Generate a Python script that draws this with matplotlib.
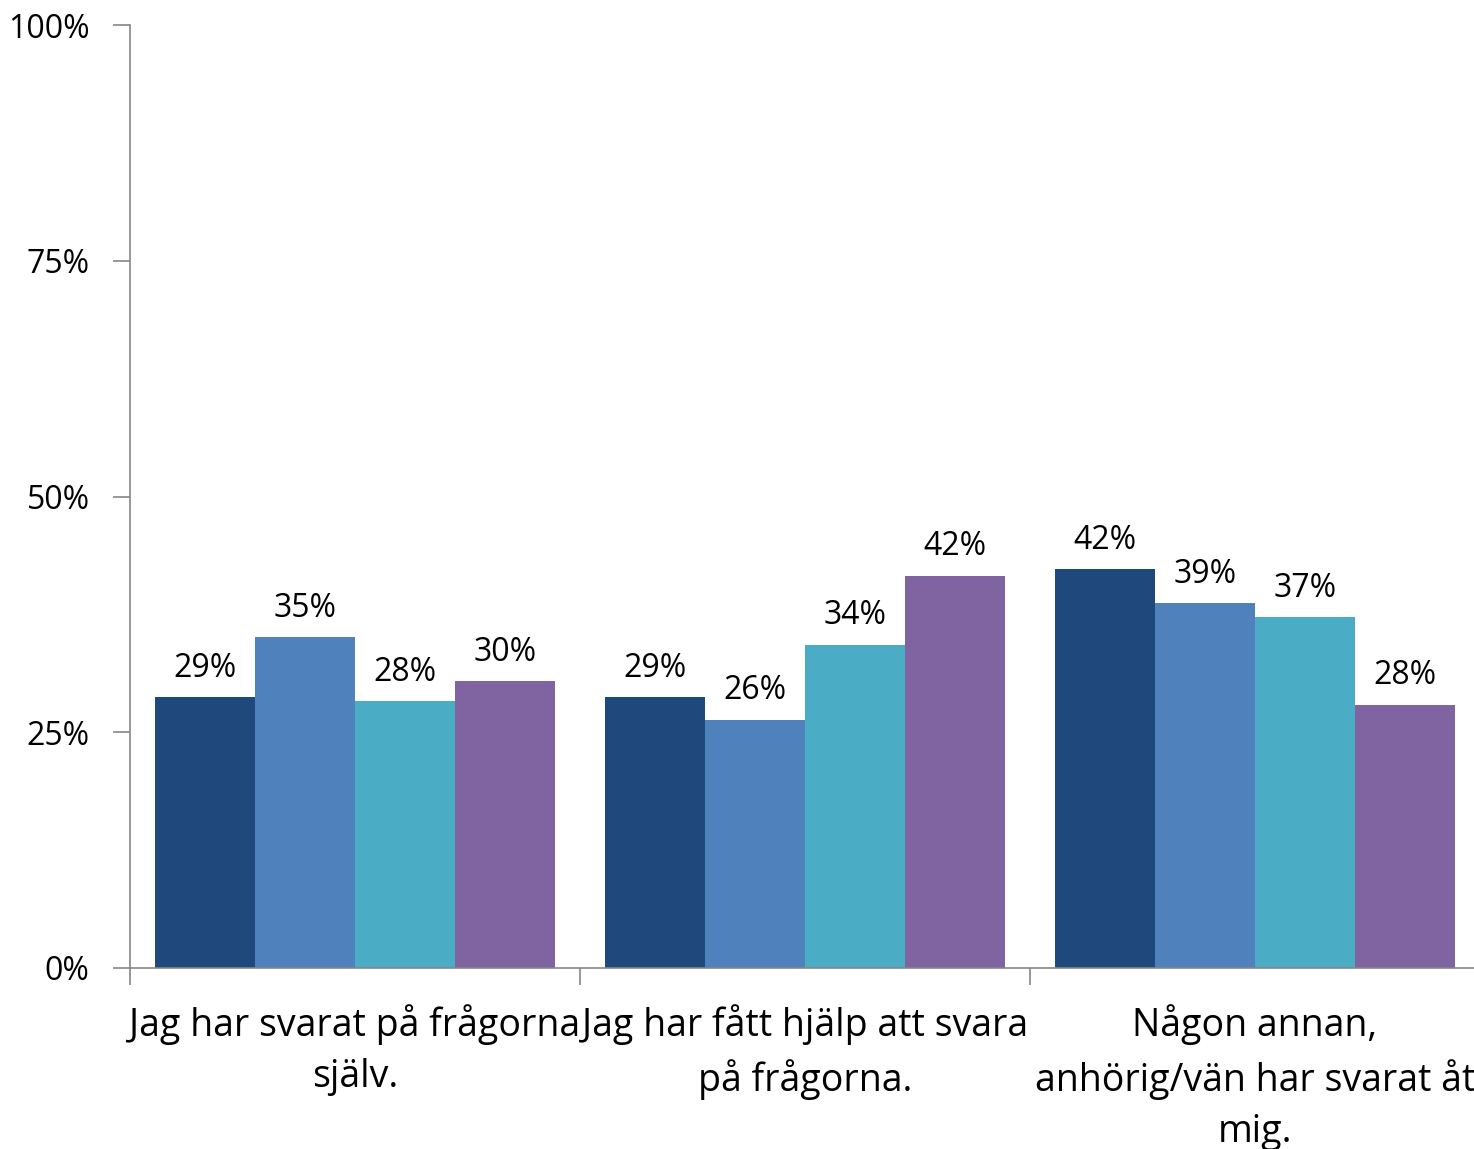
import numpy as np
import matplotlib.pyplot as plt

plt.rcParams['font.family'] = ['Open Sans', 'DejaVu Sans']

categories = [
    "Jag har svarat på frågorna\nsjälv.",
    "Jag har fått hjälp att svara\npå frågorna.",
    "Någon annan,\nanhörig/vän har svarat åt\nmig.",
]
series_1 = [0.287, 0.287, 0.423]
series_2 = [0.351, 0.263, 0.387]
series_3 = [0.283, 0.343, 0.372]
series_4 = [0.304, 0.416, 0.279]
colors = ["#1F497D", "#4F81BD", "#4BACC6", "#8064A2"]
yticks = [0, 0.25, 0.5, 0.75, 1.0]
ytick_labels = ["0%", "25%", "50%", "75%", "100%"]

fig = plt.figure(figsize=(14.74, 11.49), dpi=100)
ax = fig.add_axes([130 / 1474, 1 - 968 / 1149, 1350 / 1474, (968 - 25) / 1149])

x = np.arange(len(categories))
width = 100 / 450
for i, (vals, c) in enumerate(zip([series_1, series_2, series_3, series_4], colors)):
    pos = x + (i - 1.5) * width
    ax.bar(pos, vals, width=width, color=c, edgecolor="none")
    for px, v in zip(pos, vals):
        ax.annotate(f"{round(v * 100):.0f}%", (px, v), xytext=(0, 9),
                    textcoords="offset points", ha="center", va="bottom", fontsize=23)

ax.set_xlim(-0.5, 2.5)
ax.set_ylim(0, 1.0)
ax.set_yticks(yticks)
ax.set_yticklabels(ytick_labels, fontsize=23)
ax.set_xticks([-0.5, 0.5, 1.5, 2.5])
ax.set_xticklabels([])
ax.set_xticks(x, minor=True)
ax.set_xticklabels(categories, minor=True, fontsize=27, linespacing=1.45)
ax.tick_params(axis="x", which="minor", length=0, pad=26)
ax.tick_params(axis="x", which="major", length=12, color="#868686", width=1.2)
ax.tick_params(axis="y", length=12, color="#868686", width=1.2, pad=17)

for s in ["top", "right"]:
    ax.spines[s].set_visible(False)
for s in ["left", "bottom"]:
    ax.spines[s].set_color("#868686")
    ax.spines[s].set_linewidth(1.2)

fig.savefig("out.png", dpi=100)
